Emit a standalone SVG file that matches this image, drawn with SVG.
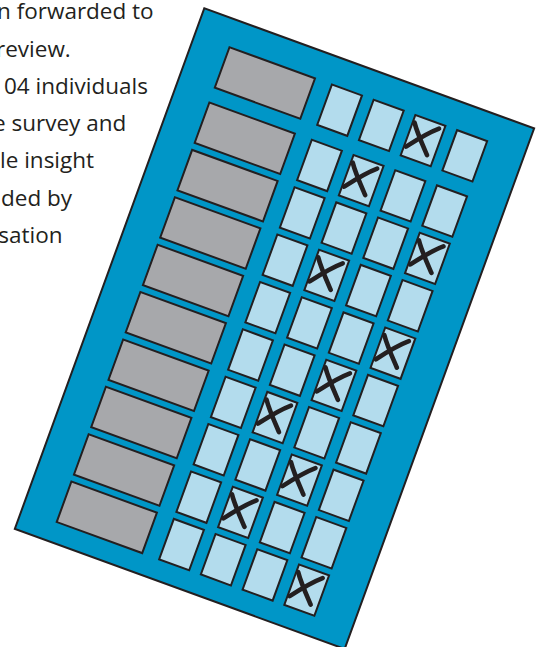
<svg xmlns="http://www.w3.org/2000/svg" xmlns:xlink="http://www.w3.org/1999/xlink" width="540" height="647" viewBox="0 0 540 647">
<style>
.txt{font-family:"Open Sans","Liberation Sans",sans-serif;font-size:22.5px;fill:#231f20}
.bar{fill:#a7a8ab;stroke:#231f20;stroke-width:2}
.box{fill:#b3dced;stroke:#231f20;stroke-width:2}
.xm{fill:none;stroke:#231f20;stroke-width:4.6;stroke-linecap:round}
</style>
<defs>
<g id="xmark">
<path class="xm" d="M-8.5,-18 C-6,-8 -1,3 4,14.5"/>
<path class="xm" d="M16,-12 C8,-9 -3,-3 -17,6"/>
</g>
</defs>
<rect width="540" height="647" fill="#ffffff"/>
<g id="text" class="txt">
<text x="-3" y="19">n forwarded to</text>
<text x="-4" y="57">review.</text>
<text x="4" y="94">04 individuals</text>
<text x="-7" y="131">e survey and</text>
<text x="0" y="168">le insight</text>
<text x="1" y="205.5">ded by</text>
<text x="-15.5" y="243">nsation</text>
</g>
<g id="form" transform="translate(204.3,8.3) rotate(20)">
<rect x="0" y="0" width="351" height="554" fill="#0096c7" stroke="#231f20" stroke-width="2"/>
<g id="row1"><rect class="bar" x="37" y="28" width="91" height="43"/><rect class="box" x="146" y="28" width="32" height="43"/><rect class="box" x="190.4" y="28" width="32" height="43"/><rect class="box" x="234.8" y="28" width="32" height="43"/><rect class="box" x="279.2" y="28" width="32" height="43"/><use xlink:href="#xmark" transform="translate(250.8,49.5) rotate(-20)"/></g>
<g id="row2"><rect class="bar" x="37" y="86.8" width="91" height="43"/><rect class="box" x="146" y="86.8" width="32" height="43"/><rect class="box" x="190.4" y="86.8" width="32" height="43"/><rect class="box" x="234.8" y="86.8" width="32" height="43"/><rect class="box" x="279.2" y="86.8" width="32" height="43"/><use xlink:href="#xmark" transform="translate(206.4,108.3) rotate(-20)"/></g>
<g id="row3"><rect class="bar" x="37" y="137.2" width="91" height="43"/><rect class="box" x="146" y="137.2" width="32" height="43"/><rect class="box" x="190.4" y="137.2" width="32" height="43"/><rect class="box" x="234.8" y="137.2" width="32" height="43"/><rect class="box" x="279.2" y="137.2" width="32" height="43"/><use xlink:href="#xmark" transform="translate(295.2,158.7) rotate(-20)"/></g>
<g id="row4"><rect class="bar" x="37" y="187.6" width="91" height="43"/><rect class="box" x="146" y="187.6" width="32" height="43"/><rect class="box" x="190.4" y="187.6" width="32" height="43"/><rect class="box" x="234.8" y="187.6" width="32" height="43"/><rect class="box" x="279.2" y="187.6" width="32" height="43"/><use xlink:href="#xmark" transform="translate(206.4,209.1) rotate(-20)"/></g>
<g id="row5"><rect class="bar" x="37" y="238.1" width="91" height="43"/><rect class="box" x="146" y="238.1" width="32" height="43"/><rect class="box" x="190.4" y="238.1" width="32" height="43"/><rect class="box" x="234.8" y="238.1" width="32" height="43"/><rect class="box" x="279.2" y="238.1" width="32" height="43"/><use xlink:href="#xmark" transform="translate(295.2,259.6) rotate(-20)"/></g>
<g id="row6"><rect class="bar" x="37" y="288.5" width="91" height="43"/><rect class="box" x="146" y="288.5" width="32" height="43"/><rect class="box" x="190.4" y="288.5" width="32" height="43"/><rect class="box" x="234.8" y="288.5" width="32" height="43"/><rect class="box" x="279.2" y="288.5" width="32" height="43"/><use xlink:href="#xmark" transform="translate(250.8,310) rotate(-20)"/></g>
<g id="row7"><rect class="bar" x="37" y="338.9" width="91" height="43"/><rect class="box" x="146" y="338.9" width="32" height="43"/><rect class="box" x="190.4" y="338.9" width="32" height="43"/><rect class="box" x="234.8" y="338.9" width="32" height="43"/><rect class="box" x="279.2" y="338.9" width="32" height="43"/><use xlink:href="#xmark" transform="translate(206.4,360.4) rotate(-20)"/></g>
<g id="row8"><rect class="bar" x="37" y="389.3" width="91" height="43"/><rect class="box" x="146" y="389.3" width="32" height="43"/><rect class="box" x="190.4" y="389.3" width="32" height="43"/><rect class="box" x="234.8" y="389.3" width="32" height="43"/><rect class="box" x="279.2" y="389.3" width="32" height="43"/><use xlink:href="#xmark" transform="translate(250.8,410.8) rotate(-20)"/></g>
<g id="row9"><rect class="bar" x="37" y="439.8" width="91" height="43"/><rect class="box" x="146" y="439.8" width="32" height="43"/><rect class="box" x="190.4" y="439.8" width="32" height="43"/><rect class="box" x="234.8" y="439.8" width="32" height="43"/><rect class="box" x="279.2" y="439.8" width="32" height="43"/><use xlink:href="#xmark" transform="translate(206.4,461.3) rotate(-20)"/></g>
<g id="row10"><rect class="bar" x="37" y="490.2" width="91" height="43"/><rect class="box" x="146" y="490.2" width="32" height="43"/><rect class="box" x="190.4" y="490.2" width="32" height="43"/><rect class="box" x="234.8" y="490.2" width="32" height="43"/><rect class="box" x="279.2" y="490.2" width="32" height="43"/><use xlink:href="#xmark" transform="translate(295.2,511.7) rotate(-20)"/></g>
</g>
</svg>
